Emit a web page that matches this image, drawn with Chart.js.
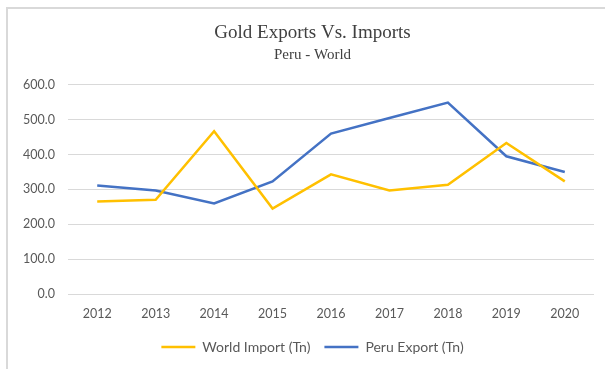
<!DOCTYPE html>
<html lang="en">
<head>
    <meta charset="UTF-8">
    <title>Gold Exports Vs. Imports</title>
    <script src="https://cdn.jsdelivr.net/npm/chart.js"></script>
    <style>
        html, body { margin: 0; padding: 0; background: #fff; overflow: hidden; }
        .marco {
            position: absolute; left: 6px; top: 7px;
            width: 620px; height: 400px;
            border: 2px solid #d9d9d9;
            box-sizing: border-box;
        }
        .grafico { position: absolute; left: 0; top: 0; width: 605px; height: 369px; }
    </style>
</head>
<body>
    <div class="marco"></div>
    <div class="grafico">
        <canvas id="linhas" width="605" height="369"></canvas>
    </div>
<script>
    // anos e toneladas por serie
    var anos = ['2012', '2013', '2014', '2015', '2016', '2017', '2018', '2019', '2020'];
    var importMundo = [265, 270, 467, 245, 343, 297, 313, 433, 323];
    var exportPeru = [311, 297, 260, 323, 460, 505, 549, 395, 350];
    var ticksY = [0, 100, 200, 300, 400, 500, 600];

    var cinza = '#595959';

    var ctx = document.getElementById('linhas').getContext('2d');
    var grafico = new Chart(ctx, {
        type: 'line',
        data: {
            labels: anos,
            datasets: [{
                label: 'World Import (Tn)',
                data: importMundo,
                borderColor: '#FFC000',
                backgroundColor: '#FFC000',
                borderWidth: 2.5,
                pointRadius: 0,
                tension: 0
            }, {
                label: 'Peru Export (Tn)',
                data: exportPeru,
                borderColor: '#4472C4',
                backgroundColor: '#4472C4',
                borderWidth: 2.5,
                pointRadius: 0,
                tension: 0
            }]
        },
        options: {
            responsive: false,
            animation: false,
            layout: { padding: { left: 20, right: 0, top: 0, bottom: 5 } },
            plugins: {
                title: {
                    display: true,
                    text: 'Gold Exports Vs. Imports',
                    color: '#404040',
                    font: { family: '"Liberation Serif", serif', size: 19, weight: 'normal', lineHeight: 1.2 },
                    padding: { top: 22, bottom: 0 }
                },
                subtitle: {
                    display: true,
                    text: 'Peru - World',
                    color: '#404040',
                    font: { family: '"Liberation Serif", serif', size: 15, weight: 'normal', lineHeight: 1.2 },
                    padding: { top: 1, bottom: 21 }
                },
                legend: {
                    position: 'bottom',
                    labels: {
                        usePointStyle: true,
                        pointStyle: 'line',
                        pointStyleWidth: 34,
                        color: cinza,
                        font: { family: 'Lato, sans-serif', size: 14 },
                        padding: 14
                    }
                },
                tooltip: { enabled: false }
            },
            scales: {
                x: {
                    offset: true,
                    grid: { display: false, drawTicks: false },
                    border: { display: false },
                    afterFit: function (eixo) { eixo.height = 32; },
                    ticks: { color: cinza, font: { family: 'Lato, sans-serif', size: 12.5 }, padding: 12, maxRotation: 0 }
                },
                y: {
                    min: 0,
                    max: 600,
                    afterBuildTicks: function (eixo) {
                        eixo.ticks = ticksY.map(function (v) { return { value: v }; });
                    },
                    afterFit: function (eixo) { eixo.width = 48; },
                    grid: { color: '#d9d9d9', lineWidth: 1, drawTicks: false },
                    border: { display: false },
                    ticks: {
                        color: cinza,
                        font: { family: 'Lato, sans-serif', size: 12.5 },
                        padding: 13,
                        callback: function (v) { return Number(v).toFixed(1); }
                    }
                },
                // margem direita do grafico
                margem: {
                    type: 'linear',
                    position: 'right',
                    grid: { display: false },
                    border: { display: false },
                    ticks: { display: false },
                    afterFit: function (eixo) { eixo.width = 11; }
                }
            }
        }
    });
</script>
</body>
</html>
